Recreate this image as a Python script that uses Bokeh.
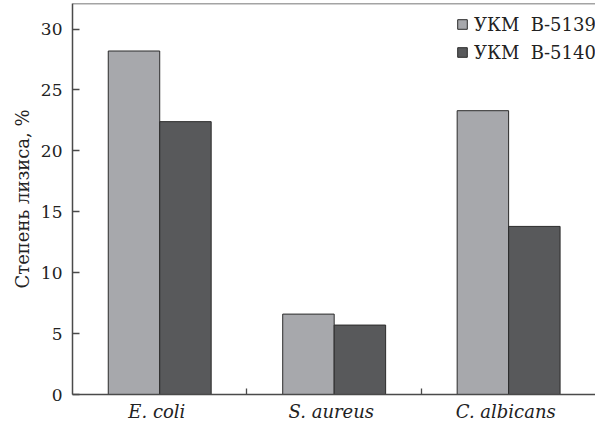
from bokeh.plotting import figure
from bokeh.models import (ColumnDataSource, FixedTicker, Range1d, Span, Legend, LegendItem)
from bokeh.embed import file_html
from bokeh.resources import INLINE
import numpy as np

categories = ["E.  coli", "S.  aureus", "C.  albicans"]
series_names = ["УКМ  В-5139", "УКМ  В-5140"]
vals_5139 = [28.2, 6.6, 23.3]
vals_5140 = [22.4, 5.7, 13.8]
y_ticks = [0, 5, 10, 15, 20, 25, 30]

FONT = "DejaVu Serif"
LIGHT = "#a7a8ac"
DARK = "#58595b"
EDGE = "#2b2b2b"
AXC = "#4a4a4a"
TXT = "#222222"

centers = np.arange(len(categories)) + 0.5
bw = 0.295
Y_END = 32.1

p = figure(width=595, height=425, output_backend="svg", toolbar_location=None,
           x_range=Range1d(0, 2.998), y_range=Range1d(0, Y_END),
           min_border_left=72, min_border_right=0, min_border_top=3, min_border_bottom=31)
p.outline_line_color = None
p.grid.visible = False
p.background_fill_color = "white"

src1 = ColumnDataSource(dict(x=centers - bw / 2, top=vals_5139))
src2 = ColumnDataSource(dict(x=centers + bw / 2, top=vals_5140))
r1 = p.vbar(x="x", top="top", width=bw, bottom=0, source=src1,
            fill_color=LIGHT, line_color=EDGE, line_width=1)
r2 = p.vbar(x="x", top="top", width=bw, bottom=0, source=src2,
            fill_color=DARK, line_color=EDGE, line_width=1)

# top frame line
p.add_layout(Span(location=Y_END, dimension="width", line_color=AXC, line_width=1.5))

# y axis
ya = p.yaxis[0]
ya.ticker = FixedTicker(ticks=y_ticks)
ya.major_tick_in = 7
ya.major_tick_out = 0
ya.minor_tick_in = 0
ya.minor_tick_out = 0
ya.axis_line_color = AXC
ya.axis_line_width = 1.5
ya.major_tick_line_color = AXC
ya.major_tick_line_width = 1.3
ya.major_label_standoff = 10
ya.major_label_text_font = FONT
ya.major_label_text_font_size = "17px"
ya.major_label_text_color = TXT
ya.axis_label = "Степень лизиса, %"
ya.axis_label_text_font = FONT
ya.axis_label_text_font_size = "18px"
ya.axis_label_text_font_style = "normal"
ya.axis_label_text_color = TXT
ya.axis_label_standoff = 5

# x axis
xa = p.xaxis[0]
xa.ticker = FixedTicker(ticks=list(centers), minor_ticks=[1.0, 2.0])
xa.major_label_overrides = {float(c): lab for c, lab in zip(centers, categories)}
xa.major_tick_in = 0
xa.major_tick_out = 0
xa.minor_tick_in = 6
xa.minor_tick_out = 0
xa.minor_tick_line_color = AXC
xa.minor_tick_line_width = 1.3
xa.axis_line_color = AXC
xa.axis_line_width = 1.5
xa.major_label_standoff = 6
xa.major_label_text_font = FONT
xa.major_label_text_font_size = "18px"
xa.major_label_text_font_style = "italic"
xa.major_label_text_color = TXT

legend = Legend(items=[LegendItem(label=series_names[0], renderers=[r1]),
                       LegendItem(label=series_names[1], renderers=[r2])],
                location=(384, 328), margin=0, padding=0,
                glyph_width=12, glyph_height=12, label_height=28, spacing=0,
                label_standoff=6, border_line_color=None, background_fill_alpha=0,
                label_text_font=FONT, label_text_font_size="18px", label_text_color=TXT)
p.add_layout(legend)

open("out.html", "w").write(file_html(p, INLINE))
